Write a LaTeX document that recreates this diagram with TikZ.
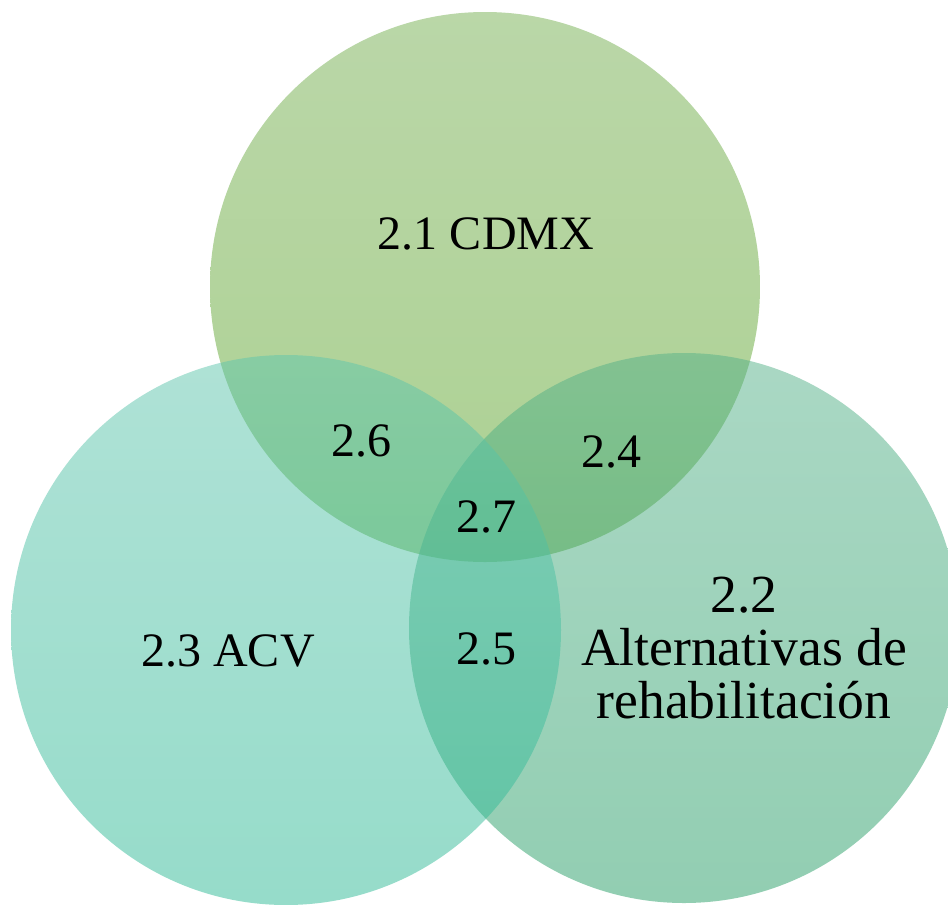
\documentclass[tikz,border=0pt]{standalone}
\usepackage{fontspec}
\setmainfont{Liberation Serif}
\definecolor{topA}{RGB}{117,175,81}
\definecolor{topB}{RGB}{89,163,37}
\definecolor{leftA}{RGB}{95,197,173}
\definecolor{leftB}{RGB}{45,185,149}
\definecolor{rightA}{RGB}{85,177,137}
\definecolor{rightB}{RGB}{37,157,101}
\begin{document}
\begin{tikzpicture}[x=0.5pt,y=-0.5pt,
  lbl/.style={anchor=base,inner sep=0pt,font=\fontsize{24}{26.5}\selectfont,text=black},
  venn/.style={fill opacity=0.5}]
\useasboundingbox (0,0) rectangle (948,905);
\shade[venn,top color=topA,bottom color=topB] (485,287) circle (275);
\shade[venn,top color=rightA,bottom color=rightB] (684,628) circle (275);
\shade[venn,top color=leftA,bottom color=leftB] (286,630) circle (275);
\node[lbl] (cdmx) at (486,249) {2.1 CDMX};
\node[lbl] (s26) at (361,456) {2.6};
\node[lbl] (s24) at (611,467) {2.4};
\node[lbl] (s27) at (486,532) {2.7};
\node[lbl] (acv) at (228,666) {2.3 ACV};
\node[lbl] (s25) at (486,664) {2.5};
\node[lbl,align=center,anchor=north,font=\fontsize{26.8}{26.5}\selectfont] (alt) at (744,577) {2.2\\Alternativas de\\rehabilitación};
\end{tikzpicture}
\end{document}
